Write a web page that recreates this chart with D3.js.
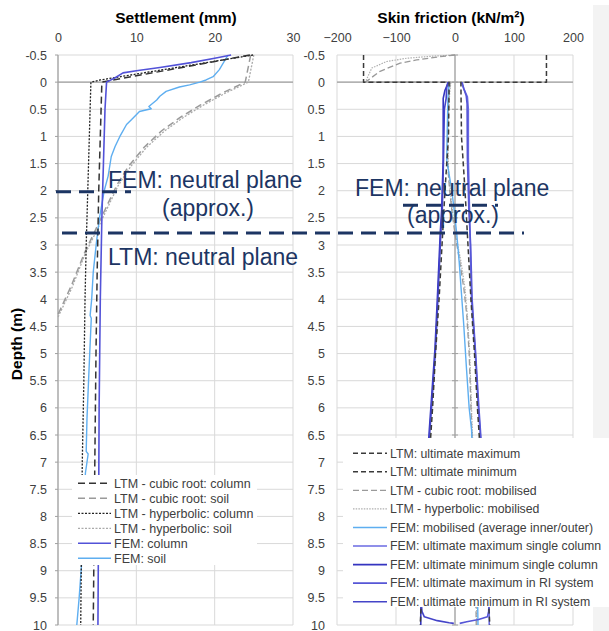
<!DOCTYPE html>
<html>
<head>
<meta charset="utf-8">
<script src="https://cdn.jsdelivr.net/npm/d3@7"></script>
<style>
    body { margin: 0; background: #fff; }
    svg { display: block; font-family: 'Liberation Sans', Arial, sans-serif; }
</style>
</head>
<body>
<svg id="grafico" width="609" height="631"></svg>
<script>
//tick values
var depthTicks = d3.range(-0.5, 10.01, 0.5);
var settlementTicks = [0, 10, 20, 30];
var frictionTicks = [-200, -100, 0, 100, 200];

//settlement series, [settlement mm, depth m]
var ltmCubicColumn = [[24.5,-0.5],[5.6,0],[5.4,1],[5.2,2],[5.0,3.5],[4.85,5],[4.7,7],[4.6,8.5],[4.5,10]];
var ltmCubicSoil = [[24.6,-0.5],[23.9,0],[21,0.2],[18.2,0.42],[15.6,0.65],[13.2,0.9],[11,1.2],[9,1.55],[7.5,1.9],[6,2.35],[4.7,2.75],[3.4,3.14],[1.7,3.75],[0,4.28]];
var ltmHypColumn = [[24.9,-0.5],[5.4,-0.04],[4.2,0],[4.0,1],[3.8,2],[3.6,3],[3.45,4],[3.3,5.5],[3.1,7],[3.0,8.5],[2.9,10]];
var ltmHypSoil = [[25,-0.5],[24.3,0],[21.4,0.2],[18.6,0.42],[16,0.65],[13.6,0.9],[11.3,1.2],[9.3,1.55],[7.7,1.9],[6.2,2.35],[4.9,2.75],[3.5,3.15],[1.8,3.78],[0,4.33]];
var femColumn = [[22.1,-0.5],[20,-0.44],[17,-0.36],[13,-0.27],[10,-0.21],[8.3,-0.17],[7.3,-0.08],[6.2,0],[6.0,0.5],[5.8,1.5],[5.6,2.5],[5.4,4],[5.25,6],[5.2,7.5],[5.1,10]];
var femSoil = [[21.7,-0.5],[20.6,-0.23],[19.8,-0.1],[18.9,-0.04],[18.1,0],[16.8,0.05],[15.5,0.09],[13.8,0.17],[13,0.26],[12.6,0.33],[11.6,0.45],[11.9,0.49],[10.4,0.54],[9.4,0.69],[8.75,0.78],[7.9,1.0],[7.3,1.18],[6.8,1.37],[6.4,1.73],[5.9,2.0],[5.3,2.5],[4.9,2.96],[4.5,3.5],[4.3,4.0],[4.1,4.3],[4.25,4.35],[4.05,5.0],[3.9,5.5],[3.7,6.2],[3.6,6.8],[3.85,6.85],[3.5,7.2],[3.2,8.2],[3.0,8.9],[2.7,9.5],[2.4,10]];

//skin friction series, [friction kN/m2, depth m]
var ltmUltMax = [[155,-0.5],[155,0],[10,0],[11,1],[17,2],[22,3],[27,4],[33,5],[38,6],[44,7],[49,8],[54,9],[59,10]];
var ltmUltMin = [[-155,-0.5],[-155,0],[-10,0],[-11,1],[-17,2],[-22,3],[-27,4],[-33,5],[-38,6],[-44,7],[-49,8],[-54,9],[-59,10]];
var ltmCubicMob = [[0,-0.5],[-25,-0.47],[-65,-0.41],[-93,-0.35],[-127,-0.2],[-152,0],[-8,0],[-10,0.2],[-12,0.6],[-13,1.1],[-12,1.6],[-9,2],[-5,2.4],[0,2.8],[8,3.3],[15,3.8],[20,4.3],[24,5],[27,6],[29,6.6],[31,7.5],[33,8.5],[35,9.3],[36,10]];
var ltmHypMob = [[0,-0.5],[-37,-0.48],[-82,-0.44],[-116,-0.38],[-141,-0.26],[-152,0],[-7,0],[-9,0.2],[-11,0.6],[-12,1.1],[-11,1.6],[-8,2],[-4,2.4],[1,2.8],[10,3.3],[17,3.8],[21,4.3],[25,5],[28,6],[30,6.6],[32,7.5],[34,8.5],[36,9.3],[37,10]];
var femMob = [[-10,0],[-12,0.3],[-13,0.8],[-14,1.43],[-10,1.7],[-6,1.95],[-2,2.3],[3,2.8],[7,3.3],[11,3.9],[15,4.5],[19,5.2],[24,6],[28,6.4],[31,7.2],[35,8.5],[38,9.3],[39,10]];
var femMaxSingle = [[11,0],[14,0.1],[21,0.27],[22.6,0.5],[22.6,1.4],[24.5,2.3],[25.4,2.78],[28,4],[33.9,4.9],[39.5,6],[42.4,6.4],[47,7.2],[52,8.2],[56,9.2],[58,9.75],[58,10]];
var femMinSingle = [[-11,0],[-17,0.15],[-20,0.3],[-20,1.43],[-22.6,2.35],[-25,2.78],[-30,4],[-34,4.92],[-40.7,5.96],[-43.5,6.4],[-48,7.2],[-52,8.2],[-56,9.2],[-58,9.75],[-58,10]];
var femMaxRI = [[12,0],[15,0.12],[19,0.25],[20.5,0.4],[21,1.4],[23.5,2.35],[26.5,3],[29,4],[35,5],[40.5,6],[43,6.4],[47.5,7.2],[52.5,8.2],[56,9.2],[58,9.6],[57,9.75],[55,9.85],[40,9.9],[20,9.94],[8,9.97]];
var femMinRI = [[-12,0],[-14,0.1],[-15,0.3],[-18,0.5],[-19.5,1.43],[-21.5,2.35],[-24,2.78],[-29,4],[-33,4.92],[-39.5,5.96],[-42.5,6.4],[-47,7.2],[-51,8.2],[-55,9.2],[-57,9.6],[-56,9.75],[-52,9.85],[-30,9.92],[-10,9.96],[-2,9.97]];

//neutral planes (depth m)
var femNeutralLeft = 2.02;
var femNeutralRight = 2.27;
var ltmNeutral = 2.78;

//legend labels
var legendLeft = ['LTM - cubic root: column', 'LTM - cubic root: soil', 'LTM - hyperbolic: column', 'LTM - hyperbolic: soil', 'FEM: column', 'FEM: soil'];
var legendRight = ['LTM: ultimate maximum', 'LTM: ultimate minimum', 'LTM - cubic root: mobilised', 'LTM - hyperbolic: mobilised', 'FEM: mobilised (average inner/outer)', 'FEM: ultimate maximum single column', 'FEM: ultimate minimum single column', 'FEM: ultimate maximum in RI system', 'FEM: ultimate minimum in RI system'];

var svg = d3.select('#grafico');

//scales
var y = d3.scaleLinear().domain([-0.5, 10]).range([55, 625]);
var xL = d3.scaleLinear().domain([0, 30]).range([58, 293]);
var xR = d3.scaleLinear().domain([-200, 200]).range([337, 573]);

//styles of the series
var stili = {
    cubicCol: { stroke: '#333', width: 1.5, dash: '7,4' },
    cubicSoil: { stroke: '#9a9a9a', width: 1.5, dash: '7,4' },
    hypCol: { stroke: '#222', width: 1.3, dash: '2,1.5' },
    hypSoil: { stroke: '#aaa', width: 1.3, dash: '2,1.5' },
    femCol: { stroke: '#5252d8', width: 1.6, dash: null },
    femSoil: { stroke: '#5eaef0', width: 1.4, dash: null },
    ultMax: { stroke: '#3a3a3a', width: 1.5, dash: '5,3' },
    ultMin: { stroke: '#3a3a3a', width: 1.5, dash: '5,3' },
    cubicMob: { stroke: '#9a9a9a', width: 1.3, dash: '6,3' },
    hypMob: { stroke: '#b0b0b0', width: 1.2, dash: '1.5,1.2' },
    femMob: { stroke: '#5eaef0', width: 1.4, dash: null },
    maxSingle: { stroke: '#6a6ae2', width: 1.6, dash: null },
    minSingle: { stroke: '#3434c0', width: 1.6, dash: null },
    maxRI: { stroke: '#5656d6', width: 1.6, dash: null },
    minRI: { stroke: '#4444c8', width: 1.6, dash: null }
};

//light panel on the right border
svg.append('rect').attr('x', 593).attr('y', 5).attr('width', 16).attr('height', 626).attr('fill', '#f3f3f3');

//function that draws grid, axes and tick labels of one panel
function disegnaPannello(x, xTicks, yLabelX, asseVerticale) {
    var g = svg.append('g');

    g.selectAll('.hgrid').data(depthTicks).enter().append('line')
        .attr('x1', x.range()[0]).attr('x2', x.range()[1])
        .attr('y1', function(d) { return y(d); }).attr('y2', function(d) { return y(d); })
        .attr('stroke', '#d9d9d9').attr('stroke-width', 1);

    g.selectAll('.vgrid').data(xTicks).enter().append('line')
        .attr('x1', function(d) { return x(d); }).attr('x2', function(d) { return x(d); })
        .attr('y1', y(-0.5)).attr('y2', y(10))
        .attr('stroke', '#d9d9d9').attr('stroke-width', 1);

    //horizontal axis at depth 0
    g.append('line')
        .attr('x1', x.range()[0]).attr('x2', x.range()[1])
        .attr('y1', y(0)).attr('y2', y(0))
        .attr('stroke', '#a0a0a0').attr('stroke-width', 1.2);

    //vertical axis with small ticks
    var ax = x(asseVerticale);
    g.append('line')
        .attr('x1', ax).attr('x2', ax).attr('y1', y(-0.5)).attr('y2', y(10))
        .attr('stroke', '#a0a0a0').attr('stroke-width', 1.2);
    g.selectAll('.tick').data(depthTicks).enter().append('line')
        .attr('x1', ax - 3).attr('x2', ax + (asseVerticale === 0 && x === xR ? 3 : 0))
        .attr('y1', function(d) { return y(d); }).attr('y2', function(d) { return y(d); })
        .attr('stroke', '#a0a0a0');

    //tick labels of the settlement / friction axis
    var assex = d3.axisTop(x).tickValues(xTicks).tickSize(0).tickPadding(0);
    var gx = g.append('g').attr('transform', 'translate(0,42)').call(assex);
    gx.select('.domain').remove();
    gx.selectAll('text').attr('font-size', 12.5).attr('fill', '#404040').attr('font-family', null).attr('dy', 0);

    //tick labels of the depth axis
    var assey = d3.axisLeft(y).tickValues(depthTicks).tickSize(0).tickPadding(0)
        .tickFormat(function(d) { return String(+d.toFixed(1)); });
    var gy = g.append('g').attr('transform', 'translate(' + yLabelX + ',0)').call(assey);
    gy.select('.domain').remove();
    gy.selectAll('text').attr('font-size', 12.5).attr('fill', '#404040').attr('font-family', null);
}

disegnaPannello(xL, settlementTicks, 47, 0);
disegnaPannello(xR, frictionTicks, 325, 0);

//function that draws a series
function disegnaSerie(dati, x, stile) {
    var linea = d3.line()
        .x(function(d) { return x(d[0]); })
        .y(function(d) { return y(d[1]); });
    svg.append('path')
        .datum(dati)
        .attr('d', linea)
        .attr('fill', 'none')
        .attr('stroke', stile.stroke)
        .attr('stroke-width', stile.width)
        .attr('stroke-dasharray', stile.dash)
        .attr('stroke-linejoin', 'round');
}

disegnaSerie(ltmHypSoil, xL, stili.hypSoil);
disegnaSerie(ltmCubicSoil, xL, stili.cubicSoil);
disegnaSerie(femSoil, xL, stili.femSoil);
disegnaSerie(ltmHypColumn, xL, stili.hypCol);
disegnaSerie(ltmCubicColumn, xL, stili.cubicCol);
disegnaSerie(femColumn, xL, stili.femCol);

disegnaSerie(ltmHypMob, xR, stili.hypMob);
disegnaSerie(ltmCubicMob, xR, stili.cubicMob);
disegnaSerie(femMob, xR, stili.femMob);
disegnaSerie(femMaxSingle, xR, stili.maxSingle);
disegnaSerie(femMinSingle, xR, stili.minSingle);
disegnaSerie(femMaxRI, xR, stili.maxRI);
disegnaSerie(femMinRI, xR, stili.minRI);
disegnaSerie(ltmUltMax, xR, stili.ultMax);
disegnaSerie(ltmUltMin, xR, stili.ultMin);

//titles
svg.append('text').attr('x', 176).attr('y', 23).attr('text-anchor', 'middle')
    .attr('font-size', 15.5).attr('font-weight', 'bold').text('Settlement (mm)');
svg.append('text').attr('x', 451).attr('y', 23).attr('text-anchor', 'middle')
    .attr('font-size', 15.5).attr('font-weight', 'bold').text('Skin friction (kN/m²)');
svg.append('text').attr('transform', 'translate(22,344) rotate(-90)').attr('text-anchor', 'middle')
    .attr('font-size', 15.5).attr('font-weight', 'bold').text('Depth (m)');

//function that draws a legend box
function disegnaLegenda(x0, y0, w, h, voci, stiliVoci, y1, passo, l0, l1, fs) {
    svg.append('rect').attr('x', x0).attr('y', y0).attr('width', w).attr('height', h).attr('fill', '#fff');
    var g = svg.append('g');
    var voce = g.selectAll('.voce').data(voci).enter().append('g')
        .attr('transform', function(d, i) { return 'translate(0,' + (y1 + i * passo) + ')'; });
    voce.append('line')
        .attr('x1', l0).attr('x2', l1)
        .attr('stroke', function(d, i) { return stiliVoci[i].stroke; })
        .attr('stroke-width', function(d, i) { return stiliVoci[i].width; })
        .attr('stroke-dasharray', function(d, i) { return stiliVoci[i].dash; });
    voce.append('text')
        .attr('x', l1 + 3).attr('dy', '0.35em')
        .attr('font-size', fs).attr('fill', '#404040')
        .text(function(d) { return d; });
}

disegnaLegenda(72, 475, 185, 90, legendLeft,
    [stili.cubicCol, stili.cubicSoil, stili.hypCol, stili.hypSoil, stili.femCol, stili.femSoil],
    483.3, 15, 78, 111, 12.5);
disegnaLegenda(343, 438, 266, 169, legendRight,
    [stili.ultMax, stili.ultMin, stili.cubicMob, stili.hypMob, stili.femMob, stili.maxSingle, stili.minSingle, stili.maxRI, stili.minRI],
    453.3, 18.55, 353, 387, 12.3);

//neutral plane annotations
var blu = '#1c3563';
function lineaNeutra(x1, x2, prof) {
    svg.append('line')
        .attr('x1', x1).attr('x2', x2).attr('y1', y(prof)).attr('y2', y(prof))
        .attr('stroke', blu).attr('stroke-width', 3).attr('stroke-dasharray', '15,8');
}
function testo(x, yy, t) {
    svg.append('text').attr('x', x).attr('y', yy).attr('font-size', 23).attr('fill', blu).text(t);
}

lineaNeutra(56, 131, femNeutralLeft);
lineaNeutra(403, 498, femNeutralRight);
lineaNeutra(62, 524, ltmNeutral);

testo(108, 188, 'FEM: neutral plane');
testo(162, 215.5, '(approx.)');
testo(108, 265, 'LTM: neutral plane');
testo(355, 196, 'FEM: neutral plane');
testo(407, 223, '(approx.)');
</script>
</body>
</html>
